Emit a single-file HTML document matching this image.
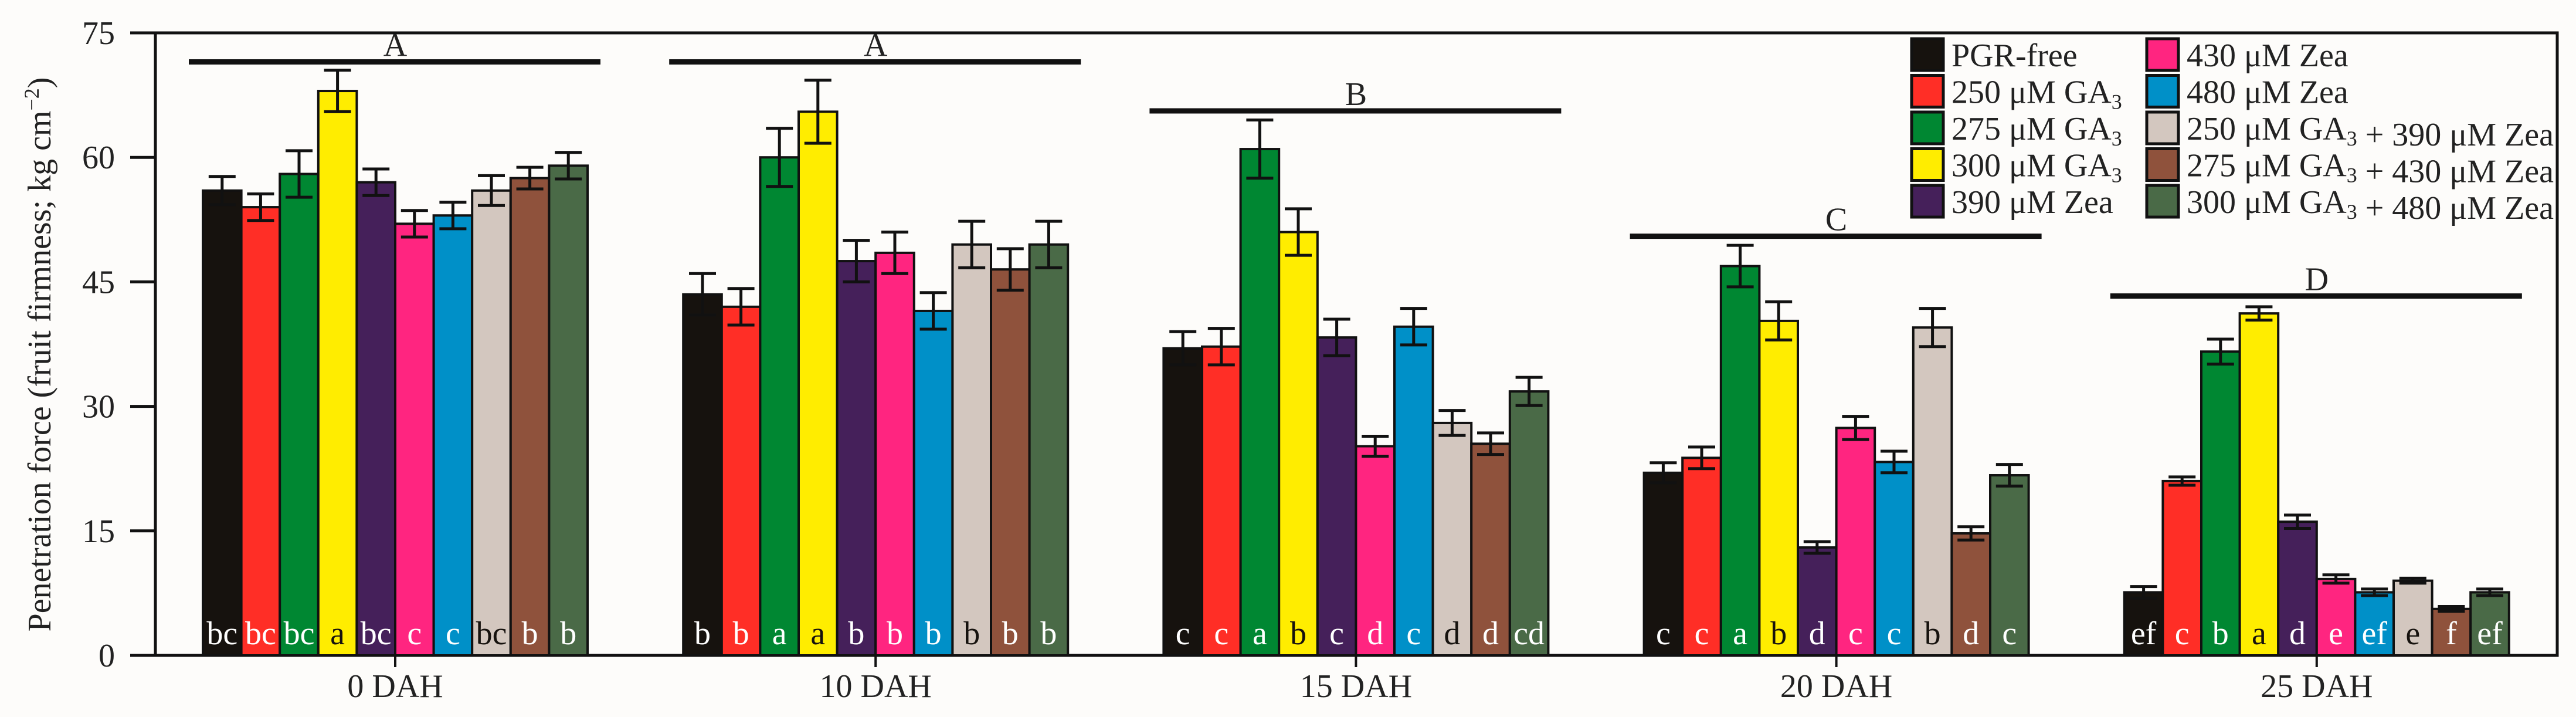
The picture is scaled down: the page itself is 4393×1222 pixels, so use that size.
<!DOCTYPE html>
<html><head><meta charset="utf-8"><style>
html,body{margin:0;padding:0;background:#fdfcfa;}
svg{display:block;font-family:"Liberation Serif",serif;}
</style></head><body>
<svg id="chart" width="4393" height="1222" viewBox="0 0 4393 1222" xmlns="http://www.w3.org/2000/svg">
<rect x="0" y="0" width="4393" height="1222" fill="#fdfcfa"/>
<g id="plot"></g>
</svg>
<script>
const categories = ["0 DAH","10 DAH","15 DAH","20 DAH","25 DAH"];
const seriesNames = ["PGR-free","250 μM GA|3","275 μM GA|3","300 μM GA|3","390 μM Zea","430 μM Zea","480 μM Zea","250 μM GA|3| + 390 μM Zea","275 μM GA|3| + 430 μM Zea","300 μM GA|3| + 480 μM Zea"];
const colors = ["#16120e","#ff2e26","#008732","#ffed00","#45205a","#ff2580","#0090c8","#d3c7bf","#8f523c","#4a6a47"];
const labelColors = ["#fff","#fff","#fff","#16120e","#fff","#fff","#fff","#16120e","#fff","#fff"];
const values = [
 [56,54,58,68,57,52,53,56,57.5,59],
 [43.5,42,60,65.5,47.5,48.5,41.5,49.5,46.5,49.5],
 [37,37.2,61,51,38.3,25.2,39.6,28,25.5,31.8],
 [22,23.8,46.9,40.3,13,27.4,23.3,39.5,14.7,21.7],
 [7.6,21,36.6,41.2,16.1,9.2,7.6,9,5.6,7.6]
];
const errors = [
 [1.7,1.6,2.8,2.5,1.6,1.6,1.6,1.8,1.3,1.6],
 [2.5,2.2,3.5,3.8,2.5,2.5,2.2,2.8,2.5,2.8],
 [2,2.2,3.5,2.8,2.2,1.2,2.2,1.5,1.3,1.7],
 [1.2,1.3,2.5,2.3,0.7,1.4,1.3,2.3,0.8,1.3],
 [0.7,0.5,1.5,0.8,0.8,0.5,0.4,0.3,0.3,0.4]
];
const letters = [
 ["bc","bc","bc","a","bc","c","c","bc","b","b"],
 ["b","b","a","a","b","b","b","b","b","b"],
 ["c","c","a","b","c","d","c","d","d","cd"],
 ["c","c","a","b","d","c","c","b","d","c"],
 ["ef","c","b","a","d","e","ef","e","f","ef"]
];
const groupLetters = ["A","A","B","C","D"];
const groupLineLevel = [71.5,71.5,65.6,50.5,43.3];
const yTicks = [0,15,30,45,60,75];

const NS="http://www.w3.org/2000/svg";
const g=document.getElementById('plot');
const L=265,R=4361,T=56,B=1117,yMax=75;
const y=v=>B-(B-T)*v/yMax;
const gc=i=>674+i*819.2;
const bw=65.6;
const bx=(i,j)=>gc(i)-bw*5+j*bw;
function mk(tag,at,par){const e=document.createElementNS(NS,tag);for(const k in at)e.setAttribute(k,at[k]);(par||g).appendChild(e);return e;}

// frame
let fr=mk('rect',{x:L,y:T,width:R-L,height:B-T,fill:'none',stroke:'#111',"stroke-width":5});



yTicks.forEach(t=>{
 const ln=mk('line',{x1:222,x2:L,y1:y(t),y2:y(t),stroke:'#111',"stroke-width":5});
 
 
 const tx=mk('text',{x:196,y:y(t)+19,"text-anchor":"end","font-size":56,fill:'#222'});
 tx.textContent=t;
 
 
});
const yt=mk('text',{x:0,y:0,"text-anchor":"middle","font-size":56,fill:'#222',transform:'translate(86,604) rotate(-90)'});
yt.innerHTML='Penetration force (fruit firmness; kg cm<tspan dy="-20" font-size="36">−2</tspan><tspan dy="20">)</tspan>';



categories.forEach((c,i)=>{
 const tk=mk('line',{x1:gc(i),x2:gc(i),y1:B,y2:B+20,stroke:'#111',"stroke-width":4});
 
 
 const ct=mk('text',{x:gc(i),y:1188,"text-anchor":"middle","font-size":56,fill:'#222'});
 ct.textContent=c;
 
 
 values[i].forEach((v,j)=>{
  const r=mk('rect',{x:bx(i,j),y:y(v),width:bw,height:B-y(v),fill:colors[j],stroke:'#111',"stroke-width":4});
  
  
  const cx=bx(i,j)+bw/2, e=errors[i][j];
  const eg=mk('path',{d:`M${cx},${y(v+e)}V${y(v-e)}M${cx-23},${y(v+e)}H${cx+23}M${cx-23},${y(v-e)}H${cx+23}`,stroke:'#111',"stroke-width":5,fill:'none'});
  
  
  const lt=mk('text',{x:cx,y:1098,"text-anchor":"middle","font-size":56,fill:labelColors[j]});
  lt.textContent=letters[i][j];
  
  
 });
 const gy=y(groupLineLevel[i]);
 const gl=mk('line',{x1:gc(i)-352,x2:gc(i)+350,y1:gy,y2:gy,stroke:'#111',"stroke-width":9});
 
 
 const gt=mk('text',{x:gc(i),y:gy-10,"text-anchor":"middle","font-size":56,fill:'#222'});
 gt.textContent=groupLetters[i];
 
 
});

// legend
seriesNames.forEach((n,j)=>{
 const col=Math.floor(j/5), row=j%5;
 const sx=col?3661:3260, sy=66+row*62.5;
 const sw=mk('rect',{x:sx,y:sy,width:54,height:54,fill:colors[j],stroke:'#111',"stroke-width":5});
 
 
 const t=mk('text',{x:sx+68,y:sy+47,"font-size":56,fill:'#222'});
 const parts=n.split('|');
 t.innerHTML=parts.map((p,k)=>k%2?`<tspan dy="10" font-size="36">${p}</tspan><tspan dy="-10"></tspan>`:p).join('');
 
 
});
</script>
</body></html>
